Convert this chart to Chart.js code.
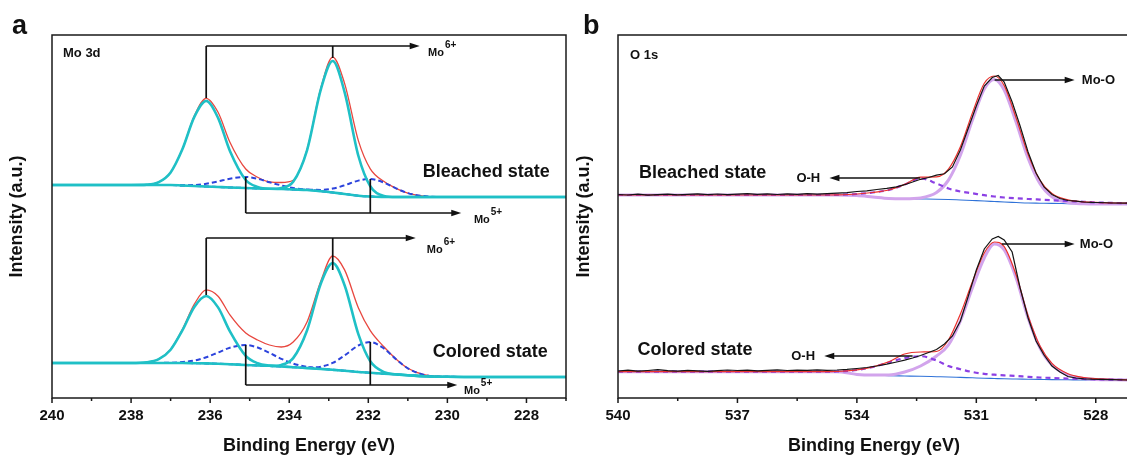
<!DOCTYPE html>
<html>
<head>
<meta charset="utf-8">
<script src="https://cdn.jsdelivr.net/npm/chart.js@4.4.1/dist/chart.umd.min.js"></script>
<style>
  html, body { margin: 0; padding: 0; background: #fff; overflow: hidden; }
  .panel { position: absolute; top: 0; width: 580px; height: 457px; }
  #pa { left: 0; }
  #pb { left: 560px; }
</style>
</head>
<body>
<div class="panel" id="pa"><canvas id="chartA" width="580" height="457"></canvas></div>
<div class="panel" id="pb"><canvas id="chartB" width="580" height="457"></canvas></div>
<script>
// ---- panel a : Mo 3d ----
const moEnergy = [240, 239, 238, 237.6, 237.3, 237.0, 236.7, 236.4, 236.1, 235.8, 235.5, 235.1, 234.8, 234.5, 234.2, 233.9, 233.55, 233.2, 232.9, 232.6, 232.25, 231.95, 231.6, 231.3, 231.0, 230.6, 230, 229, 228, 227];

// bleached state
const moBgB   = [213, 213, 213, 213, 213, 213, 212.5, 212, 211.5, 211, 210.5, 210, 209.5, 209, 209, 208.5, 208, 206.8, 205.5, 204, 202.3, 201.5, 201, 201, 201, 201, 201, 201, 201, 201];
const mo6aB   = [213, 213, 213, 213.4, 215.9, 225.6, 249, 281.1, 297, 280.1, 247, 218, 211.1, 209.2, 209, 208.5, 208, 206.8, 205.5, 204, 202.3, 201.5, 201, 201, 201, 201, 201, 201, 201, 201];
const mo6bB   = [213, 213, 213, 213, 213, 213, 212.5, 212, 211.5, 211, 210.5, 210, 209.5, 209.2, 210.1, 216.2, 247.7, 308.7, 337, 305.9, 242, 211.7, 202.1, 201, 201, 201, 201, 201, 201, 201];
const mo5aB   = [213, 213, 213, 213, 213, 213.1, 212.8, 213, 214.2, 216.6, 219.3, 221, 219.2, 215.7, 212.6, 210, 208.4, 206.9, 205.5, 204, 202.3, 201.5, 201, 201, 201, 201, 201, 201, 201, 201];
const mo5bB   = [213, 213, 213, 213, 213, 213, 212.5, 212, 211.5, 211, 210.5, 210, 209.5, 209, 209, 208.5, 208.3, 208.1, 209.4, 212.7, 217.4, 219, 215.3, 209.7, 204.9, 201.9, 201, 201, 201, 201];
const moFitB  = [213, 213, 213, 213.4, 215.9, 225.7, 249.3, 282.1, 299.7, 285.7, 255.8, 229, 220.8, 216.1, 215.5, 217.7, 248.4, 310.1, 340.9, 314.6, 257.1, 229.2, 216.4, 209.7, 204.9, 201.9, 201, 201, 201, 201];

// colored state
const moBgC   = [35, 35, 35, 35, 35, 35, 35, 34.8, 34.6, 34.3, 33.8, 33, 32.5, 32, 31.5, 30.8, 29.9, 29, 28.2, 27.3, 26, 25.2, 24.3, 23.5, 22.8, 21.8, 21.2, 21, 21, 21];
const mo6aC   = [35, 35, 35, 35.7, 38.8, 48.3, 67.8, 91.1, 102, 90.6, 66.6, 42.1, 34.8, 32.4, 31.5, 30.8, 29.9, 29, 28.2, 27.3, 26, 25.2, 24.3, 23.5, 22.8, 21.8, 21.2, 21, 21, 21];
const mo6bC   = [35, 35, 35, 35, 35, 35, 35, 34.8, 34.6, 34.3, 33.8, 33, 32.5, 32.2, 33.1, 39.9, 67.5, 114.5, 135, 112.8, 63.6, 36.7, 25.9, 23.7, 22.8, 21.8, 21.2, 21, 21, 21];
const mo5aC   = [35, 35, 35, 35, 35.1, 35.3, 36, 37.5, 40.7, 45.5, 50.3, 53, 50.5, 45.1, 39.2, 34.4, 31.1, 29.3, 28.3, 27.3, 26, 25.2, 24.3, 23.5, 22.8, 21.8, 21.2, 21, 21, 21];
const mo5bC   = [35, 35, 35, 35, 35, 35, 35, 34.8, 34.6, 34.3, 33.8, 33, 32.5, 32, 31.5, 30.8, 30.4, 31.3, 35.1, 42.6, 52.5, 55.9, 49.4, 38.8, 29.7, 23.3, 21.2, 21, 21, 21];
const moFitC  = [35, 35, 35, 35.7, 38.9, 48.6, 68.8, 93.8, 108.1, 101.8, 83.1, 65, 58, 53, 51, 56, 76, 117.1, 142, 128.1, 90.1, 67.4, 51, 39, 29.7, 23.3, 21.2, 21, 21, 21];

// bracket annotations (energy, intensity)
const moBrackets = [
  { peaks: [236.1, 232.9], ends: [300, 340], level: 352, tip: 230.7, sup: '6+', labelE: 230.49, labelY: 342 },
  { peaks: [235.1, 231.95], ends: [221, 219], level: 185, tip: 229.65, sup: '5+', labelE: 229.33, labelY: 175 },
  { peaks: [236.1, 232.9], ends: [103, 128], level: 160, tip: 230.8, sup: '6+', labelE: 230.52, labelY: 145 },
  { peaks: [235.1, 231.95], ends: [53, 56], level: 13, tip: 229.75, sup: '5+', labelE: 229.58, labelY: 4 }
];
const moStates = [
  { text: 'Bleached state', e: 227.41, y: 226 },
  { text: 'Colored state', e: 227.46, y: 46 }
];

// ---- panel b : O 1s ----
const oEnergy = [540, 539, 538, 537, 536, 535, 534.5, 534, 533.6, 533.2, 532.8, 532.4, 532.0, 531.7, 531.4, 531.1, 530.8, 530.55, 530.3, 530.0, 529.7, 529.4, 529.1, 528.7, 528.3, 528, 527.5, 527.1];
const oBgB   = [203, 203, 203, 203, 203, 203, 203, 202.5, 201, 199.5, 199.2, 199, 198.8, 198.5, 198, 197.5, 197, 196.5, 196, 195.5, 195, 194.8, 194.6, 194.4, 194.2, 194, 194, 194];
const oMoB   = [203, 203, 203, 203, 203, 203, 203, 202.5, 201, 199.5, 199.3, 200.1, 205.4, 217.9, 242.7, 277.7, 308.9, 318.5, 307.9, 275.7, 239.7, 214.2, 201.2, 195.5, 194.2, 194, 194, 194];
const oOhB   = [203, 203, 203, 203, 203, 203, 203.2, 204, 205.5, 208, 213.5, 219.7, 214.5, 209.5, 206.5, 204.7, 202.8, 201.5, 200.5, 199.7, 199, 198.4, 197.8, 197, 196.2, 195.6, 195, 194.7];
const oFitB  = [203, 203, 203, 203, 203, 203, 203.2, 204, 205.5, 208, 213.6, 220.8, 221.1, 228.9, 251.2, 284.9, 314.7, 322, 312.4, 279.9, 243.7, 217.8, 204.4, 198.1, 196.2, 195.6, 195, 194.7];
const oBgC   = [26.3, 26.3, 26.3, 26.3, 26.3, 26.3, 26.3, 23.6, 23, 22.3, 22, 21.7, 21.3, 21, 20.6, 20.2, 19.8, 19.5, 19.2, 19, 18.8, 18.6, 18.4, 18.2, 18, 18, 18, 18];
const oMoC   = [26.3, 26.3, 26.3, 26.3, 26.3, 26.3, 26.3, 23.6, 23, 23, 26, 32, 42, 53, 77, 110, 140, 154, 148, 120, 80, 50, 33, 23, 19.5, 18.6, 18.2, 18];
const oOhC   = [26.3, 26.3, 26.3, 26.3, 26.3, 26.3, 26.5, 28, 31, 35.5, 40, 41.8, 37.5, 32, 28.8, 26, 24.2, 23.3, 22.6, 22, 21.2, 20.5, 20, 19.5, 19, 18.7, 18.3, 18];
const oFitC  = [26.3, 26.3, 26.3, 26.3, 26.3, 26.3, 26.5, 28.1, 31.2, 36.2, 44, 46, 46.5, 58, 84, 116, 145, 156, 151.4, 123, 82.4, 51.9, 34.6, 24.3, 20.5, 19.3, 18.5, 18];

// measured (raw) spectra
const rawEnergy = [540, 539.75, 539.5, 539.25, 539, 538.75, 538.5, 538.25, 538, 537.75, 537.5, 537.25, 537, 536.75, 536.5, 536.25, 536, 535.75, 535.5, 535.25, 535, 534.75, 534.5, 534.25, 534, 533.75, 533.5, 533.25, 533, 532.8, 532.6, 532.4, 532.2, 532, 531.8, 531.6, 531.4, 531.2, 531, 530.8, 530.6, 530.45, 530.3, 530.1, 529.9, 529.7, 529.5, 529.3, 529.1, 528.9, 528.7, 528.5, 528.3, 528.1, 527.9, 527.6, 527.2];
const rawB = [203.5, 203, 203.8, 202.8, 203.4, 203.9, 203.1, 203.6, 204.2, 203.4, 204, 203.3, 203.8, 204.3, 203.6, 204.1, 203.5, 204.2, 203.7, 204.4, 203.9, 204.3, 204.8, 205.4, 206.5, 207.2, 208.5, 209.6, 211.2, 213.3, 216, 218.7, 220.5, 222.8, 224.2, 231, 248, 270, 292, 312, 320.5, 322.5, 316, 296, 272, 246, 225, 211, 203.5, 199.5, 197.5, 196.8, 196, 195.6, 195.5, 195, 194.8];
const rawC = [27, 27.8, 26.9, 27.5, 28.3, 27.4, 26.8, 27.6, 27.1, 26.6, 27.4, 28, 27.5, 27.9, 27.2, 27.7, 28.2, 27.5, 27.9, 27.6, 28.1, 27.7, 28, 28.6, 29.5, 30.5, 32, 33.8, 36, 37.8, 40, 42.5, 45.5, 48.5, 54, 62, 77, 102, 128, 149, 159, 161.5, 158, 146, 110, 80, 57, 43, 32, 26, 21.5, 20, 19.2, 18.8, 18.6, 18.3, 18];

const oArrows = [
  { text: 'Mo-O', from: 530.54, to: 528.53, y: 318, labelE: 528.35, align: 'left' },
  { text: 'O-H', from: 532.41, to: 534.69, y: 220, labelE: 534.92, align: 'right' },
  { text: 'Mo-O', from: 530.36, to: 528.53, y: 154, labelE: 528.4, align: 'left' },
  { text: 'O-H', from: 532.6, to: 534.82, y: 42, labelE: 535.05, align: 'right' }
];
const oStates = [
  { text: 'Bleached state', e: 539.47, y: 225 },
  { text: 'Colored state', e: 539.51, y: 48 }
];

const FONT = '"Liberation Sans", Arial, Helvetica, sans-serif';

function pts(xs, ys) { return xs.map((e, i) => ({ x: e, y: ys[i] })); }

function line(data, color, width, order, dash, smooth = true) {
  return {
    data, borderColor: color, borderWidth: width, borderDash: dash || [],
    pointRadius: 0, fill: false, order,
    cubicInterpolationMode: smooth ? 'monotone' : 'default', tension: 0
  };
}

function text(ctx, str, x, y, size, align, base) {
  ctx.font = 'bold ' + size + 'px ' + FONT;
  ctx.textAlign = align || 'left';
  ctx.textBaseline = base || 'middle';
  ctx.fillText(str, x, y);
}

function arrow(ctx, x1, y, x2) {
  const dir = Math.sign(x2 - x1);
  ctx.beginPath();
  ctx.moveTo(x1, y);
  ctx.lineTo(x2 - dir * 8, y);
  ctx.stroke();
  ctx.beginPath();
  ctx.moveTo(x2, y);
  ctx.lineTo(x2 - dir * 10, y - 3.2);
  ctx.lineTo(x2 - dir * 10, y + 3.2);
  ctx.closePath();
  ctx.fill();
}

// box + outward x ticks (long for labelled ticks)
const frame = {
  id: 'frame',
  afterDraw(chart) {
    const { ctx, chartArea: a, scales: { x } } = chart;
    ctx.save();
    ctx.strokeStyle = '#1a1a1a';
    ctx.lineWidth = 1.5;
    ctx.strokeRect(a.left, a.top, a.right - a.left, a.bottom - a.top);
    ctx.beginPath();
    x.ticks.forEach(t => {
      const px = x.getPixelForValue(t.value);
      ctx.moveTo(px, a.bottom);
      ctx.lineTo(px, a.bottom + (t.label ? 5 : 3));
    });
    ctx.stroke();
    ctx.restore();
  }
};

const overlayA = {
  id: 'overlayA',
  afterDraw(chart) {
    const { ctx, chartArea: a, scales: { x, y } } = chart;
    ctx.save();
    ctx.fillStyle = '#111';
    ctx.strokeStyle = '#111';
    ctx.lineWidth = 1.7;
    moBrackets.forEach(b => {
      const ly = y.getPixelForValue(b.level);
      ctx.beginPath();
      b.peaks.forEach((e, i) => {
        const px = x.getPixelForValue(e);
        ctx.moveTo(px, y.getPixelForValue(b.ends[i]));
        ctx.lineTo(px, ly);
      });
      ctx.stroke();
      arrow(ctx, x.getPixelForValue(b.peaks[0]), ly, x.getPixelForValue(b.tip));
      const lx = x.getPixelForValue(b.labelE), lyy = y.getPixelForValue(b.labelY);
      text(ctx, 'Mo', lx, lyy, 11, 'left', 'alphabetic');
      const w = ctx.measureText('Mo').width;
      text(ctx, b.sup, lx + w + 1, lyy - 8, 10, 'left', 'alphabetic');
    });
    moStates.forEach(s => text(ctx, s.text, x.getPixelForValue(s.e), y.getPixelForValue(s.y), 18, 'right'));
    text(ctx, 'Mo 3d', a.left + 11, a.top + 18, 13, 'left');
    text(ctx, 'a', 12, 27, 27, 'left');
    ctx.restore();
  }
};

const overlayB = {
  id: 'overlayB',
  afterDraw(chart) {
    const { ctx, chartArea: a, scales: { x, y } } = chart;
    ctx.save();
    ctx.fillStyle = '#111';
    ctx.strokeStyle = '#111';
    ctx.lineWidth = 1.6;
    oArrows.forEach(r => {
      const py = y.getPixelForValue(r.y);
      arrow(ctx, x.getPixelForValue(r.from), py, x.getPixelForValue(r.to));
      text(ctx, r.text, x.getPixelForValue(r.labelE), py, 13, r.align);
    });
    oStates.forEach(s => text(ctx, s.text, x.getPixelForValue(s.e), y.getPixelForValue(s.y), 18, 'left'));
    text(ctx, 'O 1s', a.left + 12, a.top + 20, 13, 'left');
    text(ctx, 'b', 23, 27, 27, 'left');
    ctx.restore();
  }
};

function makeChart(id, o) {
  return new Chart(document.getElementById(id), {
    type: 'line',
    data: { datasets: o.datasets },
    options: {
      responsive: false,
      animation: false,
      events: [],
      layout: { padding: { left: 0, right: o.padRight, top: 35, bottom: 0 } },
      plugins: { legend: { display: false }, tooltip: { enabled: false } },
      scales: {
        x: {
          type: 'linear', reverse: true, min: o.xMin, max: o.xMax,
          afterFit: s => { s.height = 59; },
          grid: { display: true, drawOnChartArea: false, drawTicks: true, tickLength: 5, color: 'rgba(0,0,0,0)' },
          border: { display: false },
          ticks: {
            stepSize: o.step, includeBounds: false, autoSkip: false, maxRotation: 0, padding: 4,
            color: '#111', font: { family: FONT, size: 15, weight: 'bold' },
            callback: o.tickLabel
          },
          title: {
            display: true, text: 'Binding Energy (eV)', color: '#111',
            font: { family: FONT, size: 18, weight: 'bold' }, padding: { top: 0, bottom: 0 }
          }
        },
        y: {
          type: 'linear', min: 0, max: 363,
          afterFit: s => { s.width = o.yWidth; },
          grid: { display: false },
          border: { display: false },
          ticks: { display: false },
          title: {
            display: true, text: 'Intensity (a.u.)', color: '#111',
            font: { family: FONT, size: 18, weight: 'bold' }, padding: { top: o.titlePad, bottom: 0 }
          }
        }
      }
    },
    plugins: [frame, o.overlay]
  });
}

const CYAN = '#1fc0c6', RED = '#e8473f', BLUE = '#2c43dc';
makeChart('chartA', {
  xMin: 227, xMax: 240, step: 1, yWidth: 52, titlePad: 6, padRight: 14, overlay: overlayA,
  tickLabel: v => (Math.round(v) % 2 === 0 ? String(Math.round(v)) : ''),
  datasets: [
    line(pts(moEnergy, moBgB), CYAN, 1.5, 4),
    line(pts(moEnergy, moFitB), RED, 1.3, 3),
    line(pts(moEnergy, mo5aB), BLUE, 2, 2, [5, 3]),
    line(pts(moEnergy, mo5bB), BLUE, 2, 2, [5, 3]),
    line(pts(moEnergy, mo6aB), CYAN, 2.6, 1),
    line(pts(moEnergy, mo6bB), CYAN, 2.6, 1),
    line(pts(moEnergy, moBgC), CYAN, 1.5, 4),
    line(pts(moEnergy, moFitC), RED, 1.3, 3),
    line(pts(moEnergy, mo5aC), BLUE, 2, 2, [5, 3]),
    line(pts(moEnergy, mo5bC), BLUE, 2, 2, [5, 3]),
    line(pts(moEnergy, mo6aC), CYAN, 2.6, 1),
    line(pts(moEnergy, mo6bC), CYAN, 2.6, 1)
  ]
});

const BLACK = '#141414', RED2 = '#ea302b', VIOLET = '#d2a4ec', PURPLE = '#8c40e4', BLUE2 = '#2f72d8';
makeChart('chartB', {
  xMin: 527.14, xMax: 540, step: 1.5, yWidth: 58, titlePad: 13, padRight: 10, overlay: overlayB,
  tickLabel: v => {
    const r = Math.round(v * 10) / 10;
    return Math.abs((540 - r) % 3) < 0.01 ? String(r) : '';
  },
  datasets: [
    line(pts(oEnergy, oBgB), BLUE2, 1.1, 5),
    line(pts(oEnergy, oMoB), VIOLET, 3, 4),
    line(pts(oEnergy, oOhB), PURPLE, 2.2, 3, [5, 4]),
    line(pts(oEnergy, oFitB), RED2, 1.2, 2),
    line(pts(rawEnergy, rawB), BLACK, 1.2, 1, null, false),
    line(pts(oEnergy, oBgC), BLUE2, 1.1, 5),
    line(pts(oEnergy, oMoC), VIOLET, 3, 4),
    line(pts(oEnergy, oOhC), PURPLE, 2.2, 3, [5, 4]),
    line(pts(oEnergy, oFitC), RED2, 1.2, 2),
    line(pts(rawEnergy, rawC), BLACK, 1.2, 1, null, false)
  ]
});
</script>
</body>
</html>
